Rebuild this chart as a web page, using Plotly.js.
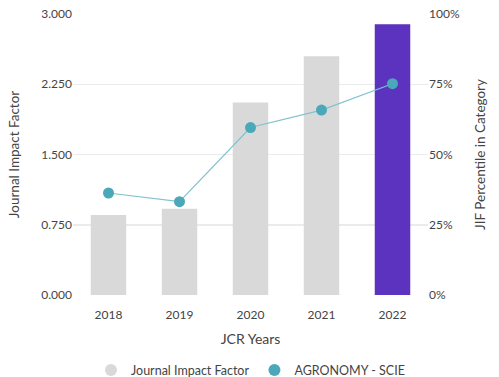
<!DOCTYPE html>
<html>
<head>
<meta charset="utf-8">
<script src="https://cdn.plot.ly/plotly-3.0.1.min.js"></script>
<style>html,body{margin:0;padding:0;background:#fff;}#chart{width:499px;height:377px;}</style>
</head>
<body>
<div id="chart"></div>
<script>
var years = ['2018', '2019', '2020', '2021', '2022'];
var jif = [0.853, 0.920, 2.055, 2.548, 2.890];
var percentile = [36.3, 33.2, 59.6, 65.8, 75.2];
var barName = 'Journal Impact Factor';
var lineName = 'AGRONOMY - SCIE';

var gray = '#d9d9d9', purple = '#5c33be', teal = '#4ba8b9', tealLine = '#80c2ce';
var barColors = years.map(function (y, i) { return i === years.length - 1 ? purple : gray; });

var font = 'Lato, "Noto Sans", sans-serif';

var traces = [
  {type: 'bar', x: years, y: jif, name: barName, showlegend: false,
   marker: {color: barColors, line: {width: 0}}, hoverinfo: 'y'},
  {type: 'scatter', mode: 'lines+markers', x: years, y: percentile, yaxis: 'y2', name: lineName, showlegend: false,
   line: {color: tealLine, width: 1.2}, marker: {color: teal, size: 11}},
  {type: 'scatter', mode: 'markers', x: [null], y: [null], name: barName, showlegend: true,
   marker: {color: gray, size: 12, symbol: 'circle'}},
  {type: 'scatter', mode: 'markers', x: [null], y: [null], name: lineName, showlegend: true,
   marker: {color: teal, size: 12, symbol: 'circle'}}
];

var layout = {
  width: 499, height: 377,
  margin: {l: 73, r: 71, t: 14, b: 82, autoexpand: false},
  paper_bgcolor: '#fff', plot_bgcolor: '#fff',
  font: {family: font, size: 12, color: '#444'},
  bargap: 0.5,
  xaxis: {type: 'category', showgrid: false, showline: false, zeroline: false,
          ticks: 'outside', ticklen: 9, tickcolor: 'rgba(0,0,0,0)', tickfont: {size: 12, color: '#444'},
          title: {text: 'JCR Years', font: {size: 14, color: '#444'}, standoff: 12}},
  yaxis: {range: [0, 3], dtick: 0.75, tick0: 0, tickformat: '.3f',
          showgrid: true, gridcolor: '#ebebeb', gridwidth: 1.5, zeroline: false,
          showline: false, ticks: '', ticklen: 0,
          tickfont: {size: 12, color: '#444'},
          title: {text: 'Journal Impact Factor', font: {size: 13.5, color: '#444'}, standoff: 18}},
  yaxis2: {overlaying: 'y', side: 'right', range: [0, 100], dtick: 25, tick0: 0, ticksuffix: '%',
           showgrid: false, zeroline: false, showline: false,
           tickfont: {size: 12, color: '#444'},
           title: {text: 'JIF Percentile in Category', font: {size: 13.5, color: '#444'}, standoff: 16}},
  legend: {orientation: 'h', x: 0.5, xanchor: 'center', y: -0.215, yanchor: 'top',
           font: {size: 12.5, color: '#444'}, itemwidth: 30},
  hovermode: false
};

Plotly.newPlot('chart', traces, layout, {displayModeBar: false, staticPlot: true});
</script>
</body>
</html>
